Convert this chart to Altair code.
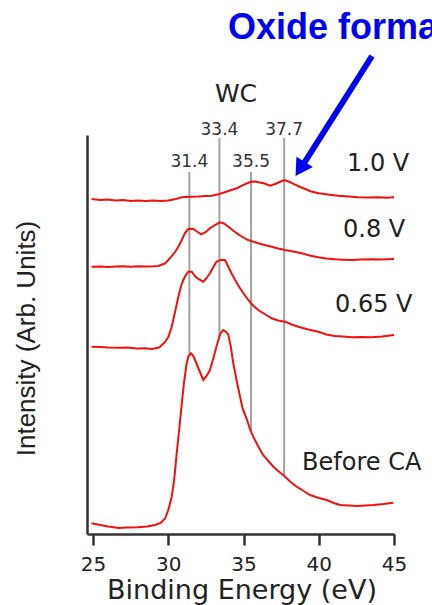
import altair as alt
import numpy as np
import pandas as pd

# W 4f / W 5p region spectra (binding energy in eV, intensity in arbitrary units,
# each spectrum already stacked with its own vertical offset)
energy_10 = [24.9, 25.5, 26.0, 26.5, 27.0, 27.5, 28.0, 28.5, 29.0, 29.5, 30.0, 30.5, 30.9,
             31.45, 32.0, 32.5, 32.9, 33.4, 33.8, 34.2, 34.6, 34.9, 35.2, 35.5, 35.8, 36.0,
             36.4, 36.76, 37.1, 37.4, 37.7, 38.0, 38.4, 38.7, 39.1, 39.5, 40.0, 40.6, 41.3,
             42.0, 42.6, 43.3, 44.0, 44.5, 45.0]
inten_10 = [335, 334, 334.5, 333.5, 334, 333, 333.5, 333, 333.5, 333, 333.5, 335, 336.7,
            337.3, 337.5, 338, 338.3, 340, 342, 344, 346, 348.3, 350.5, 352.3, 352.5, 351.7,
            350.5, 348.3, 350, 352, 354, 352.5, 349.7, 347.5, 345, 342.5, 340.7, 339.5, 338.3,
            337.5, 336.7, 336.5, 336.7, 336.2, 336.7]

energy_08 = [24.9, 25.5, 26.0, 26.5, 27.0, 27.5, 28.0, 28.5, 29.0, 29.34, 29.8, 30.2, 30.45,
             30.67, 30.9, 31.1, 31.33, 31.5, 31.66, 31.9, 32.2, 32.5, 32.77, 33.1, 33.44, 33.7,
             34.0, 34.3, 34.65, 35.0, 35.3, 35.98, 36.4, 36.87, 37.3, 37.76, 38.3, 38.87, 39.4,
             39.97, 40.5, 41.08, 41.6, 42.2, 42.8, 43.5, 44.2, 45.0]
inten_08 = [267.3, 267.5, 267, 267.5, 267.7, 267.3, 267.8, 267.5, 267.7, 268, 270.7, 277.3, 282,
            287.3, 294, 300.7, 305, 305.2, 305, 302.5, 299.7, 302, 305.7, 309, 311.7, 310.5,
            307.3, 303.5, 299.7, 296.5, 294, 290.7, 289, 287.3, 285.5, 284, 282.5, 280.7, 278.5,
            276.7, 275.5, 274.7, 274.3, 274, 274.5, 274.7, 274.5, 275]

energy_065 = [24.9, 25.5, 26.0, 26.7, 27.3, 27.9, 28.5, 28.9, 29.4, 29.8, 30.0, 30.23, 30.45,
              30.67, 30.85, 31.0, 31.15, 31.33, 31.56, 31.8, 32.05, 32.33, 32.55, 32.77, 33.0,
              33.2, 33.45, 33.77, 34.0, 34.2, 34.5, 34.77, 35.05, 35.32, 35.6, 35.98, 36.4,
              36.87, 37.3, 37.76, 38.2, 38.64, 39.3, 39.97, 40.5, 41.08, 41.6, 42.2, 42.8, 43.5,
              44.2, 45.0]
inten_065 = [187.3, 187, 186.5, 186.3, 186.5, 185.5, 185.7, 185, 186.5, 192.3, 197, 207.3, 222,
             237.3, 248, 254, 258.5, 262.3, 262.3, 257.5, 254.5, 252.3, 256, 260.7, 267,
             272.3, 274, 274, 267, 260.7, 252.5, 245.7, 239.5, 234, 229, 224, 220,
             215.7, 213.5, 212.3, 209.5, 207.3, 204.5, 202.3, 199.5, 198, 197.5, 196.7, 197, 196.7,
             197.5, 199]

energy_pre = [24.9, 25.5, 26.0, 26.7, 27.3, 28.0, 28.6, 29.1, 29.5, 29.8, 30.0, 30.23, 30.4,
              30.56, 30.73, 30.9, 31.05, 31.22, 31.35, 31.5, 31.65, 31.78, 32.05, 32.33, 32.55,
              32.77, 33.0, 33.2, 33.45, 33.65, 33.85, 33.99, 34.15, 34.32, 34.55, 34.77, 34.95,
              35.2, 35.45, 35.65, 36.0, 36.3, 36.65, 36.98, 37.3, 37.64, 38.1, 38.53, 39.0, 39.42,
              40.0, 40.53, 41.0, 41.41, 42.0, 42.52, 43.1, 43.63, 44.3, 44.95]
inten_pre = [10.7, 9, 7.5, 6, 6.5, 6.7, 7.5, 9, 11, 15.7, 24, 37.3, 55,
             80.7, 105, 130.7, 152, 170.7, 178, 180.7, 178.5, 174, 164, 154, 158,
             164, 176, 187.3, 200, 204, 202, 199, 188, 170.7, 153, 137.3, 125,
             115.7, 104, 97.3, 87, 79, 73, 67.3, 63, 59, 52.5, 47.3, 43, 39,
             36, 34, 31, 29, 28.5, 28, 28.5, 29, 30, 31.3]

# Curve labels
series_names = ["1.0 V", "0.8 V", "0.65 V", "Before CA"]
label_energy = [41.88, 41.61, 41.08, 38.89]
label_inten = [363, 297, 222, 64]

# WC reference peak positions
peak_energy = [31.4, 33.4, 35.5, 37.7]
peak_text = ["31.4", "33.4", "35.5", "37.7"]
peak_label_inten = [367, 399, 367, 399]
peak_rule_top = [362, 396, 362, 396]

# Annotations
wc_label = {"e": 34.5, "i": 432, "t": "WC"}
oxide_label = {"e": 33.97, "i": 495, "t": "Oxide formation"}
arrow_start = (43.54, 478)
arrow_end = (38.82, 366)
arrow_head = (38.76, 365)

spectra = pd.concat([
    pd.DataFrame({"series": name, "energy": e, "intensity": i})
    for name, e, i in zip(series_names,
                          [energy_10, energy_08, energy_065, energy_pre],
                          [inten_10, inten_08, inten_065, inten_pre])
])

# Reference lines run from their label down to the bottom spectrum
rules = pd.DataFrame({
    "energy": peak_energy,
    "top": peak_rule_top,
    "bottom": np.interp(peak_energy, energy_pre, inten_pre),
})
peaks = pd.DataFrame({"energy": peak_energy, "intensity": peak_label_inten, "text": peak_text})
labels = pd.DataFrame({"energy": label_energy, "intensity": label_inten, "text": series_names})
wc = pd.DataFrame([wc_label])
oxide = pd.DataFrame([oxide_label])
arrow = pd.DataFrame([{"e": arrow_start[0], "i": arrow_start[1],
                       "e2": arrow_end[0], "i2": arrow_end[1]}])
head = pd.DataFrame([{"e": arrow_head[0], "i": arrow_head[1]}])

xscale = alt.Scale(domain=[24.6, 45], nice=False, zero=False)
yscale = alt.Scale(domain=[0, 399], nice=False, zero=False)

x_axis = alt.Axis(
    values=[25, 30, 35, 40, 45], title="Binding Energy (eV)", grid=False,
    domainColor="#333333", domainWidth=2.5, tickColor="#333333", tickWidth=2.5,
    tickSize=11, labelFont="DejaVu Sans", labelFontSize=20, labelColor="#222222",
    labelPadding=25, labelBaseline="alphabetic", labelFlush=False,
    titleFont="DejaVu Sans", titleFontSize=27, titleFontWeight="normal",
    titleColor="#222222", titleX=154.5, titleY=64, titleAlign="center",
    titleBaseline="alphabetic",
)
y_axis = alt.Axis(
    title="Intensity (Arb. Units)", ticks=False, labels=False, grid=False,
    domainColor="#333333", domainWidth=2.5,
    titleFont="Liberation Sans", titleFontSize=26, titleFontWeight="normal",
    titleColor="#222222", titleAngle=270, titleX=-53, titleY=203,
    titleAlign="center", titleBaseline="alphabetic",
)

base_x = alt.X("energy:Q", scale=xscale, axis=x_axis)

ref_rules = alt.Chart(rules).mark_rule(color="#a3a3a3", strokeWidth=2).encode(
    x=base_x,
    y=alt.Y("top:Q", scale=yscale, axis=y_axis),
    y2="bottom:Q",
)

lines = alt.Chart(spectra).mark_line(color="#f21010", strokeWidth=2).encode(
    x=base_x,
    y=alt.Y("intensity:Q", scale=yscale, axis=y_axis),
    detail="series:N",
)

peak_text_layer = alt.Chart(peaks).mark_text(
    font="DejaVu Sans", fontSize=17, color="#333333", align="center", baseline="alphabetic"
).encode(x="energy:Q", y="intensity:Q", text="text:N")

label_layer = alt.Chart(labels).mark_text(
    font="DejaVu Sans", fontSize=24, color="#222222", align="left", baseline="alphabetic"
).encode(x="energy:Q", y="intensity:Q", text="text:N")

wc_layer = alt.Chart(wc).mark_text(
    font="DejaVu Sans", fontSize=25, color="#222222", align="center", baseline="alphabetic"
).encode(x="e:Q", y="i:Q", text="t:N")

oxide_layer = alt.Chart(oxide).mark_text(
    font="Liberation Sans", fontSize=36, fontWeight="bold", color="#0000f0",
    align="left", baseline="alphabetic"
).encode(x="e:Q", y="i:Q", text="t:N")

arrow_shaft = alt.Chart(arrow).mark_rule(color="#0000f0", strokeWidth=6).encode(
    x="e:Q", y="i:Q", x2="e2:Q", y2="i2:Q"
)
arrow_tip = alt.Chart(head).mark_point(
    shape="triangle-up", size=380, angle=212.5, filled=True, color="#0000f0", opacity=1
).encode(x="e:Q", y="i:Q")

chart = alt.layer(
    ref_rules, lines, peak_text_layer, label_layer, wc_layer,
    arrow_shaft, arrow_tip, oxide_layer,
).properties(
    width=307, height=399,
    autosize=alt.AutoSizeParams(type="none"),
    padding={"left": 87, "top": 135, "right": 38, "bottom": 71},
    background="white",
).configure_view(stroke="transparent")

chart.save("out.html", embed_options={"renderer": "svg", "actions": False})
